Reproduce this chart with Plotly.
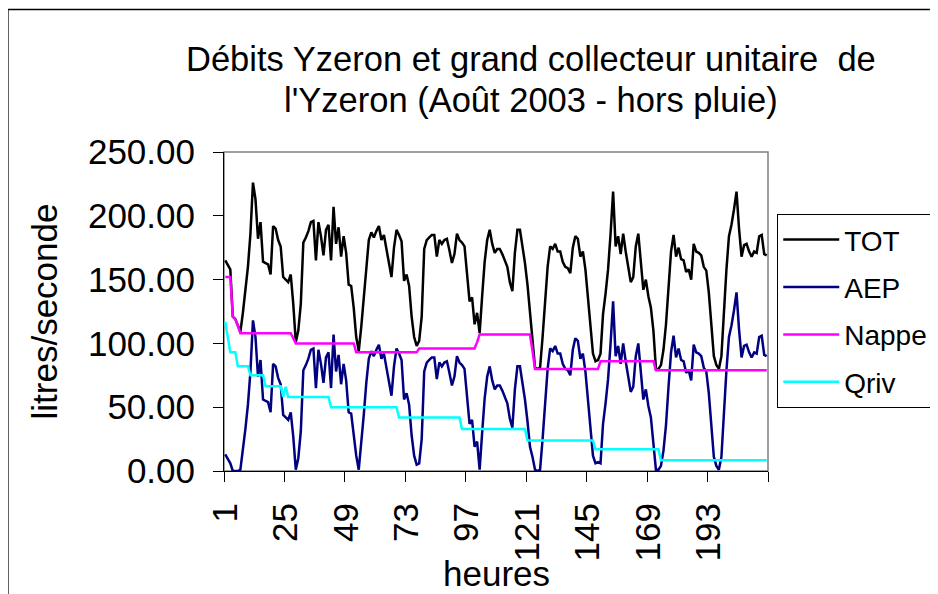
import plotly.graph_objects as go

# ---------------- data ----------------
hours = list(range(1, 217))

tot = [
    165, 162, 158, 121, 119, 114, 109, 124, 141, 160, 186, 226, 213, 182, 195, 164, 163, 162, 154, 192, 190, 181, 176, 152,
    150, 148, 154, 131, 101, 110, 131, 179, 183, 188, 195, 196, 165, 195, 184, 169, 189, 193, 165, 207, 178, 191, 168, 184,
    171, 146, 145, 128, 105, 94, 113, 137, 162, 181, 187, 183, 188, 192, 181, 185, 174, 162, 152, 175, 189, 185, 180, 149,
    154, 145, 121, 105, 98, 102, 121, 174, 181, 183, 185, 185, 168, 181, 178, 181, 182, 173, 163, 170, 186, 181, 179, 176,
    153, 133, 136, 115, 124, 108, 137, 164, 181, 189, 178, 171, 174, 174, 170, 165, 160, 148, 141, 171, 189, 189, 176, 163,
    146, 126, 105, 81, 80, 81, 105, 135, 160, 176, 174, 178, 172, 172, 164, 160, 159, 155, 175, 184, 182, 168, 172, 158,
    137, 112, 92, 86, 87, 92, 123, 139, 158, 186, 219, 176, 184, 170, 186, 172, 160, 148, 152, 176, 186, 163, 142, 150,
    137, 128, 110, 80, 80, 83, 95, 115, 145, 172, 185, 168, 175, 166, 165, 156, 158, 150, 178, 172, 171, 169, 160, 157,
    140, 118, 90, 83, 80, 90, 130, 158, 184, 193, 205, 219, 190, 168, 177, 178, 172, 168, 172, 171, 184, 185, 170, 169,
]

aep = [
    13, 10, 6, 0, 0, 0, 1, 16, 33, 52, 78, 118, 105, 74, 87, 56, 55, 54, 46, 84, 82, 73, 68, 44,
    42, 40, 46, 27, 1, 10, 31, 79, 83, 88, 95, 96, 65, 95, 84, 69, 89, 93, 65, 107, 78, 91, 68, 84,
    71, 46, 45, 28, 12, 1, 20, 44, 69, 88, 94, 90, 95, 99, 88, 92, 81, 69, 59, 82, 96, 92, 87, 56,
    61, 52, 28, 12, 5, 6, 25, 78, 85, 87, 89, 89, 72, 85, 82, 85, 86, 77, 67, 74, 90, 85, 83, 80,
    57, 37, 40, 19, 23, 1, 30, 57, 74, 82, 71, 64, 67, 67, 63, 58, 53, 41, 34, 64, 82, 82, 69, 56,
    39, 19, 11, 1, 0, 1, 25, 55, 80, 96, 94, 98, 92, 92, 84, 80, 79, 75, 95, 104, 102, 88, 92, 78,
    57, 32, 12, 6, 7, 6, 37, 53, 72, 100, 133, 90, 98, 84, 100, 86, 74, 62, 66, 90, 100, 77, 56, 64,
    51, 42, 24, 1, 1, 4, 16, 36, 66, 93, 106, 89, 96, 87, 86, 77, 79, 71, 99, 93, 92, 90, 81, 78,
    61, 39, 11, 4, 1, 11, 51, 79, 105, 114, 126, 140, 111, 89, 98, 99, 93, 89, 93, 92, 105, 106, 91, 90,
]

nappe = [
    152, 152, 152, 121, 119, 114, 108, 108, 108, 108, 108, 108, 108, 108, 108, 108, 108, 108, 108, 108, 108, 108, 108, 108,
    108, 108, 108, 104, 100, 100, 100, 100, 100, 100, 100, 100, 100, 100, 100, 100, 100, 100, 100, 100, 100, 100, 100, 100,
    100, 100, 100, 100, 93, 93, 93, 93, 93, 93, 93, 93, 93, 93, 93, 93, 93, 93, 93, 93, 93, 93, 93, 93,
    93, 93, 93, 93, 93, 96, 96, 96, 96, 96, 96, 96, 96, 96, 96, 96, 96, 96, 96, 96, 96, 96, 96, 96,
    96, 96, 96, 96, 101, 107, 107, 107, 107, 107, 107, 107, 107, 107, 107, 107, 107, 107, 107, 107, 107, 107, 107, 107,
    107, 107, 94, 80, 80, 80, 80, 80, 80, 80, 80, 80, 80, 80, 80, 80, 80, 80, 80, 80, 80, 80, 80, 80,
    80, 80, 80, 80, 80, 86, 86, 86, 86, 86, 86, 86, 86, 86, 86, 86, 86, 86, 86, 86, 86, 86, 86, 86,
    86, 86, 86, 79, 79, 79, 79, 79, 79, 79, 79, 79, 79, 79, 79, 79, 79, 79, 79, 79, 79, 79, 79, 79,
    79, 79, 79, 79, 79, 79, 79, 79, 79, 79, 79, 79, 79, 79, 79, 79, 79, 79, 79, 79, 79, 79, 79, 79,
]

qriv = [
    117, 105, 93, 93, 93, 82, 82, 82, 82, 82, 75, 75, 75, 75, 75, 75, 66.5, 66.5, 66.5, 66.5, 66.5, 66.5, 66.5, 58,
    66, 58, 58, 58, 58, 58, 58, 58, 58, 58, 58, 58, 58, 58, 58, 58, 58, 58, 50, 50, 50, 50, 50, 50,
    50, 50, 50, 50, 50, 50, 50, 50, 50, 50, 50, 50, 50, 50, 50, 50, 50, 50, 50, 50, 50, 42, 42, 42,
    42, 42, 42, 42, 42, 42, 42, 42, 42, 42, 42, 42, 42, 42, 42, 42, 42, 42, 42, 42, 42, 42, 33, 33,
    33, 33, 33, 33, 33, 33, 33, 33, 33, 33, 33, 33, 33, 33, 33, 33, 33, 33, 33, 33, 33, 33, 33, 33,
    24, 24, 24, 24, 24, 24, 24, 24, 24, 24, 24, 24, 24, 24, 24, 24, 24, 24, 24, 24, 24, 24, 24, 24,
    24, 24, 24, 17, 17, 17, 17, 17, 17, 17, 17, 17, 17, 17, 17, 17, 17, 17, 17, 17, 17, 17, 17, 17,
    17, 17, 17, 17, 17, 8.4, 8.4, 8.4, 8.4, 8.4, 8.4, 8.4, 8.4, 8.4, 8.4, 8.4, 8.4, 8.4, 8.4, 8.4, 8.4, 8.4, 8.4, 8.4,
    8.4, 8.4, 8.4, 8.4, 8.4, 8.4, 8.4, 8.4, 8.4, 8.4, 8.4, 8.4, 8.4, 8.4, 8.4, 8.4, 8.4, 8.4, 8.4, 8.4, 8.4, 8.4, 8.4, 8.4,
]

series_names = ["TOT", "AEP", "Nappe", "Qriv"]
tick_vals = [1, 25, 49, 73, 97, 121, 145, 169, 193]
tick_text = ["1", "25", "49", "73", "97", "121", "145", "169", "193"]
y_ticks = [0, 50, 100, 150, 200, 250]

for s in (tot, aep, nappe, qriv):
    assert len(s) == len(hours), len(s)

# ---------------- figure ----------------
FONT = "Liberation Sans, Arial, sans-serif"
colors = ["#000000", "#000080", "#FF00FF", "#00FFFF"]

fig = go.Figure()
for name, vals, col in zip(series_names, [tot, aep, nappe, qriv], colors):
    fig.add_trace(go.Scatter(
        x=hours, y=vals, name=name, mode="lines",
        line=dict(color=col, width=2.5),
        legendgroup=name,
    ))

boundaries = [0.5 + 24 * k for k in range(10)]

fig.update_layout(
    width=930, height=586,
    margin=dict(l=216, r=170, t=144, b=123, pad=0, autoexpand=False),
    paper_bgcolor="white", plot_bgcolor="white",
    font=dict(family=FONT, size=35, color="black"),
    showlegend=True,
    legend=dict(
        x=1.017, y=0.806, xanchor="left", yanchor="top",
        bordercolor="black", borderwidth=1, bgcolor="white",
        font=dict(family=FONT, size=28, color="black"),
        itemwidth=56, tracegroupgap=8,
    ),
    xaxis=dict(
        range=[0.5, 216.5], showgrid=False, zeroline=False, automargin=False,
        showline=True, linecolor="black", linewidth=1,
        tickmode="array", tickvals=tick_vals, ticktext=tick_text,
        ticks="", tickangle=-90, ticklabelstandoff=17,
        tickfont=dict(family=FONT, size=35),
        minor=dict(tickvals=boundaries, ticks="outside", ticklen=10,
                   tickcolor="black", tickwidth=1, showgrid=False),
    ),
    yaxis=dict(
        range=[0, 250], showgrid=False, zeroline=False, automargin=False,
        showline=True, linecolor="black", linewidth=1,
        tickmode="array", tickvals=y_ticks, tickformat=".2f",
        ticks="outside", ticklen=10, tickcolor="black",
        ticklabelstandoff=11,
        tickfont=dict(family=FONT, size=35),
        title=dict(text="litres/seconde", font=dict(family=FONT, size=35), standoff=19),
    ),
    shapes=[
        dict(type="rect", xref="paper", yref="paper", x0=0, x1=1, y0=0, y1=1,
             line=dict(color="#808080", width=1.5), layer="below"),
        dict(type="rect", xref="paper", yref="paper", x0=-0.3973, x1=1.3095, y0=-0.5, y1=1.447,
             line=dict(color="black", width=1.5), layer="below"),
    ],
    annotations=[
        dict(text="Débits Yzeron et grand collecteur unitaire \u00a0de", xref="paper", yref="paper",
             x=0.564, y=1.290, xanchor="center", yanchor="middle", showarrow=False,
             font=dict(family=FONT, size=34.5, color="black")),
        dict(text="l'Yzeron (Août 2003 - hors pluie)", xref="paper", yref="paper",
             x=0.564, y=1.164, xanchor="center", yanchor="middle", showarrow=False,
             font=dict(family=FONT, size=34.5, color="black")),
        dict(text="heures", xref="paper", yref="paper",
             x=0.5, y=-0.322, xanchor="center", yanchor="middle", showarrow=False,
             font=dict(family=FONT, size=35, color="black")),
    ],
)

fig.write_html("out.html")
